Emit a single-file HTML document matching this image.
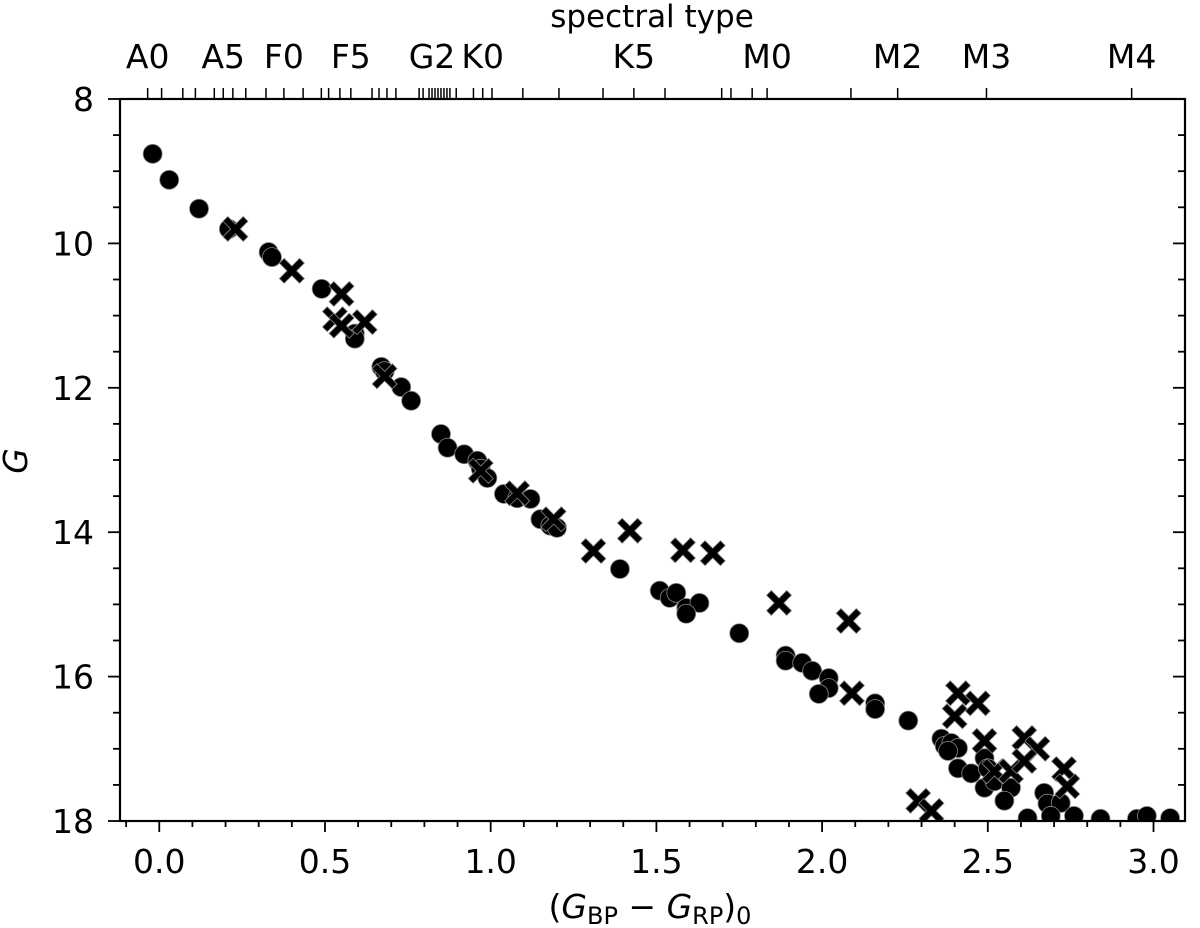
<!DOCTYPE html>
<html><head><meta charset="utf-8"><style>
body{margin:0;background:#fff;}
svg text{font-family:"DejaVu Sans","Liberation Sans",sans-serif;fill:#000;}
</style></head><body>
<svg id="chart" width="1200" height="928" viewBox="0 0 1200 928" xmlns="http://www.w3.org/2000/svg" style="position:absolute;left:0;top:0">
<defs><clipPath id="plotclip"><rect x="120" y="99" width="1065" height="722"/></clipPath></defs>
<g id="marks" clip-path="url(#plotclip)"></g>
<g id="axes"></g>
<text x="652" y="27" font-size="31" text-anchor="middle">spectral type</text>
<text x="650" y="918" font-size="33" text-anchor="middle">(<tspan font-style="italic">G</tspan><tspan font-size="24" dy="6">BP</tspan><tspan dy="-6"> − </tspan><tspan font-style="italic">G</tspan><tspan font-size="24" dy="6">RP</tspan><tspan dy="-6">)</tspan><tspan font-size="24" dy="6">0</tspan></text>
<text x="0" y="0" font-size="33" font-style="italic" text-anchor="middle" transform="translate(27,461) rotate(-90)">G</text>
</svg>
<script>
const circleX=[-0.02,0.03,0.12,0.21,0.33,0.34,0.49,0.59,0.59,0.67,0.68,0.73,0.76,0.85,0.87,0.92,0.96,0.97,0.99,1.04,1.08,1.12,1.15,1.18,1.20,1.39,1.51,1.54,1.56,1.59,1.63,1.59,1.75,1.89,1.89,1.94,1.97,2.02,2.02,1.99,2.16,2.16,2.26,2.36,2.37,2.39,2.41,2.38,2.41,2.45,2.49,2.50,2.49,2.52,2.57,2.55,2.67,2.68,2.72,2.62,2.69,2.76,2.84,2.95,2.98,3.05];
const circleY=[8.76,9.12,9.52,9.80,10.12,10.19,10.63,11.25,11.32,11.71,11.77,11.99,12.18,12.64,12.83,12.92,13.01,13.12,13.25,13.47,13.53,13.54,13.82,13.91,13.94,14.51,14.81,14.91,14.84,15.05,14.98,15.13,15.40,15.71,15.78,15.81,15.92,16.02,16.16,16.24,16.37,16.45,16.61,16.86,16.96,16.92,16.99,17.03,17.27,17.34,17.13,17.27,17.54,17.45,17.54,17.72,17.61,17.76,17.75,17.96,17.93,17.93,17.97,17.97,17.93,17.96];
const crossX=[0.23,0.40,0.55,0.53,0.55,0.62,0.68,0.97,1.08,1.19,1.31,1.42,1.58,1.67,1.87,2.08,2.09,2.41,2.47,2.40,2.49,2.52,2.57,2.61,2.65,2.61,2.73,2.74,2.29,2.33];
const crossY=[9.80,10.38,10.70,11.05,11.14,11.09,11.84,13.15,13.46,13.82,14.26,13.98,14.25,14.29,14.98,15.23,16.23,16.23,16.37,16.55,16.89,17.31,17.31,16.85,17.00,17.17,17.28,17.52,17.72,17.86];
const xTicks=[0.0,0.5,1.0,1.5,2.0,2.5,3.0];
const yTicks=[8,10,12,14,16,18];
const specLabels=["A0","A5","F0","F5","G2","K0","K5","M0","M2","M3","M4"];
const specLabelPos=[-0.035,0.193,0.376,0.578,0.823,0.976,1.432,1.834,2.228,2.496,2.934];
const specTickPos=[-0.035,0.007,0.071,0.109,0.166,0.193,0.222,0.261,0.322,0.376,0.434,0.489,0.511,0.545,0.578,0.642,0.663,0.687,0.714,0.784,0.796,0.814,0.823,0.832,0.841,0.850,0.859,0.868,0.877,0.896,0.948,0.976,1.004,1.097,1.206,1.339,1.432,1.526,1.697,1.725,1.789,1.834,2.087,2.228,2.496,2.934];

const L=120,R=1185,T=99,B=821;
const X0=-0.1185, X1=3.095, Y0=8, Y1=18;
function sx(v){return L+(v-X0)/(X1-X0)*(R-L);}
function sy(v){return T+(v-Y0)/(Y1-Y0)*(B-T);}
const NS='http://www.w3.org/2000/svg';
function mk(tag,attrs,parent){const e=document.createElementNS(NS,tag);for(const k in attrs)e.setAttribute(k,attrs[k]);parent.appendChild(e);return e;}
const marks=document.getElementById('marks'), axes=document.getElementById('axes');

circleX.forEach((v,i)=>{
  const c=mk('circle',{cx:sx(v),cy:sy(circleY[i]),r:9.5,fill:'#000',stroke:'#888','stroke-width':0.8},marks);
  
  
});
crossX.forEach((v,i)=>{
  const cx=sx(v),cy=sy(crossY[i]),s=12.5,w=4.8;
  const p=`M${cx-s},${cy-s+w} L${cx-s+w},${cy-s} L${cx},${cy-w} L${cx+s-w},${cy-s} L${cx+s},${cy-s+w} L${cx+w},${cy} L${cx+s},${cy+s-w} L${cx+s-w},${cy+s} L${cx},${cy+w} L${cx-s+w},${cy+s} L${cx-s},${cy+s-w} L${cx-w},${cy} Z`;
  const e=mk('path',{d:p,fill:'#000',stroke:'#888','stroke-width':0.8},marks);
  
  
});

const fr=mk('rect',{x:L,y:T,width:R-L,height:B-T,fill:'none',stroke:'#000','stroke-width':2.2},axes);


for(let k=-1;k<=31;k++){const v=k/10;if(v<X0||v>X1)continue;const x=sx(v);const maj=(k%5===0);
  mk('line',{x1:x,y1:B,x2:x,y2:B+(maj?11:6),stroke:'#000','stroke-width':1.8},axes);}
xTicks.forEach(v=>{const t=mk('text',{x:sx(v),y:873,'font-size':33,'text-anchor':'middle'},axes);t.textContent=v.toFixed(1);
  
  });
for(let k=16;k<=36;k++){const v=k/2;const y=sy(v);const maj=(k%4===0);
  mk('line',{x1:L,y1:y,x2:L-(maj?12:7),y2:y,stroke:'#000','stroke-width':1.8},axes);
  mk('line',{x1:R,y1:y,x2:R-(maj?12:7),y2:y,stroke:'#000','stroke-width':1.8},axes);}
yTicks.forEach(v=>{const t=mk('text',{x:94,y:sy(v)+12,'font-size':33,'text-anchor':'end'},axes);t.textContent=v;
  
  });
specTickPos.forEach(v=>{const x=sx(v);mk('line',{x1:x,y1:T,x2:x,y2:T-11,stroke:'#000','stroke-width':1.5},axes);});
specLabels.forEach((s,i)=>{const t=mk('text',{x:sx(specLabelPos[i]),y:68,'font-size':33,'text-anchor':'middle'},axes);t.textContent=s;
  
  });
</script>
</body></html>
